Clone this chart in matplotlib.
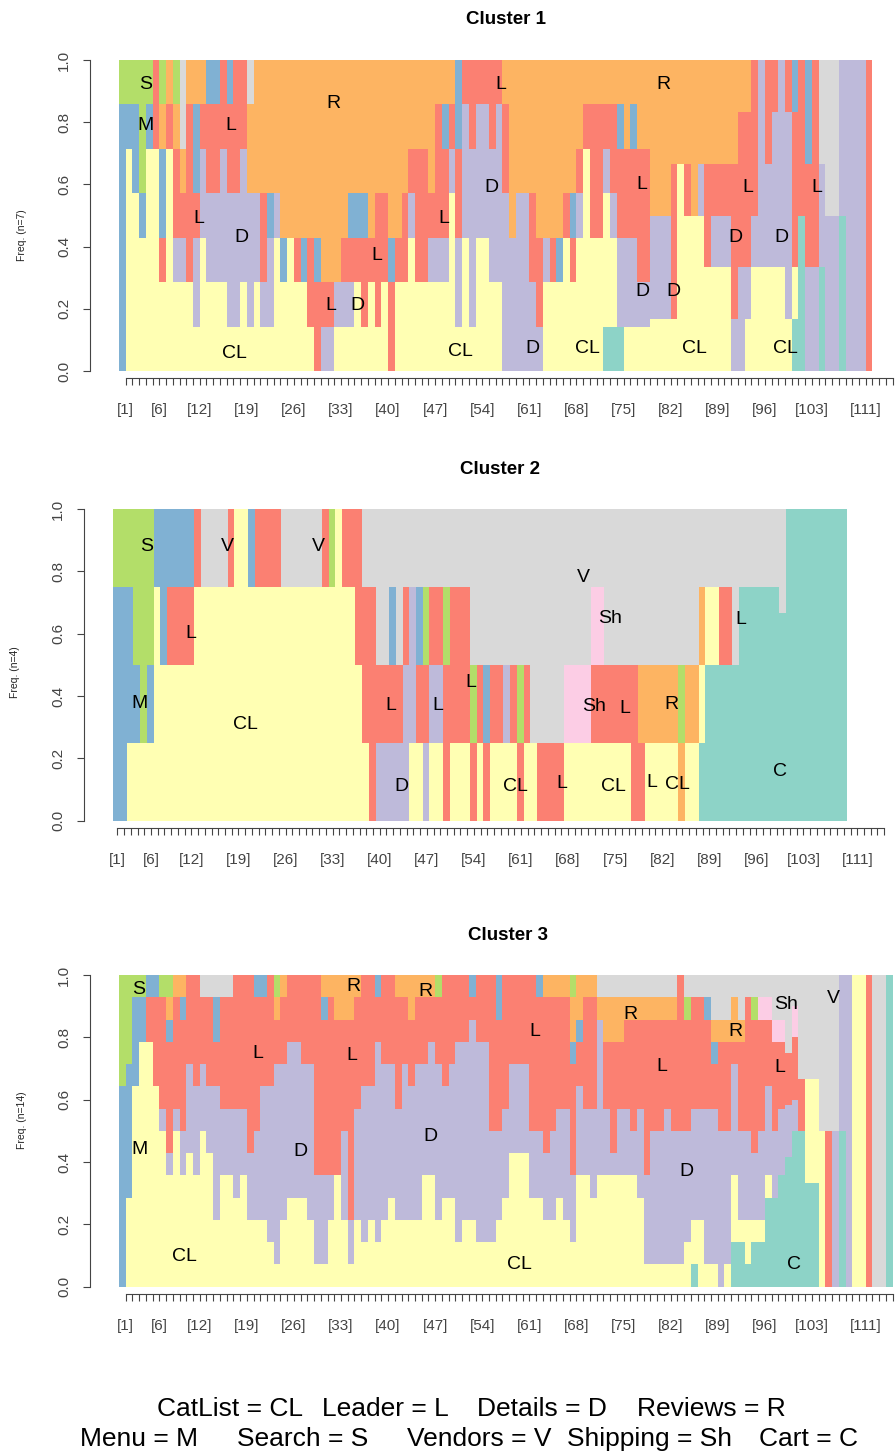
import re
import matplotlib.pyplot as plt
import pandas as pd

plt.rcParams['font.family'] = ['Liberation Sans', 'DejaVu Sans']

# --- states (alphabet order used for stacking) and Set3 colours ---
states = ['C', 'CL', 'D', 'L', 'M', 'R', 'S', 'Sh', 'V']
state_colors = ['#8DD3C7', '#FFFFB3', '#BEBADA', '#FB8072', '#80B1D3',
                '#FDB462', '#B3DE69', '#FCCDE5', '#D9D9D9']

legend_row1 = ['CatList = CL', 'Leader = L', 'Details = D', 'Reviews = R']
legend_row2 = ['Menu = M', 'Search = S', 'Vendors = V', 'Shipping = Sh', 'Cart = C']

n_positions = 115
label_positions = [1, 6, 12, 19, 26, 33, 40, 47, 54, 61, 68, 75, 82, 89, 96, 103, 111]
ytick_values = [0.0, 0.2, 0.4, 0.6, 0.8, 1.0]

# --- state counts at each sequence position ---
cluster1 = [
    "M6 S1", "CL5 M1 S1", "CL4 M2 S1", "CL3 M1 S3", "CL5 M1 S1",              # 1-5
    "CL5 L2", "CL2 L1 M2 R1 S1", "CL5 L1 R1", "CL2 D1 L2 R1 S1", "CL2 D1 L1 R1 V2",  # 6-10
    "CL2 L4 R1", "CL1 D2 L1 M2 R1", "CL3 D2 L1 R1", "CL2 D2 L2 M1", "CL2 D2 L2 M1",  # 11-15
    "CL2 D3 L2", "CL1 D3 L2 M1", "CL1 D3 L3", "CL2 D3 L2", "CL1 D3 R2 V1",    # 16-20
    "CL2 D2 R3", "CL1 D1 L2 R3", "CL1 D2 M1 R3", "CL3 D1 R3", "CL2 M1 R4",    # 21-25
    "CL3 R4", "CL2 L1 R4", "CL2 M1 R4", "CL1 L2 R4", "L2 M1 R4",              # 26-30
    "D1 L1 R5", "D1 L1 R5", "CL1 D1 R5", "CL1 D1 L1 R4", "CL1 D1 L1 M1 R3",   # 31-35
    "CL2 L1 M1 R3", "CL1 L2 M1 R3", "CL2 L1 R4", "CL1 L3 R3", "CL2 L2 R3",    # 36-40
    "L2 M1 R4", "CL2 L1 R4", "CL2 L2 R3", "CL3 D1 L1 R2", "CL2 L3 R2",        # 41-45
    "CL2 L3 R2", "CL2 D1 L1 R3", "CL2 D1 L3 R1", "CL2 D1 L2 M1 R1", "CL4 D1 L1 R1",  # 46-50
    "CL1 D2 L2 M2", "CL3 D3 L1", "CL1 D4 L2", "CL3 D3 L1", "CL3 D3 L1",       # 51-55
    "CL2 D3 L2", "CL2 D4 L1", "D4 L2 R1", "D3 R4", "D4 R3",                   # 56-60
    "D4 R3", "D2 L2 R3", "D1 L2 R4", "CL2 D1 R4", "CL2 L1 R4",                # 61-65
    "CL2 M1 R4", "CL3 L1 R3", "CL2 L1 M1 R3", "CL3 D1 L1 R2", "CL5 L1 R1",    # 66-70
    "CL3 L3 R1", "CL3 L3 R1", "C1 CL3 D1 L1 R1", "C1 CL2 D1 L2 R1", "C1 D2 L2 M1 R1",  # 71-75
    "CL1 D2 L2 R2", "CL1 D2 L2 M1 R1", "CL1 D1 L3 R2", "CL1 D1 L3 R2", "CL1 D2 R3",  # 76-80
    "CL1 D2 R3", "CL1 D2 R3", "CL1 L3 R2", "CL4 R2", "CL3 L1 R2",             # 81-85
    "CL3 R3", "CL3 D1 R2", "CL2 L2 R2", "CL2 D1 L1 R2", "CL2 D1 L1 R2",       # 86-90
    "CL2 D1 L1 R2", "D1 L3 R2", "D2 L3 R1", "CL1 D1 L3 R1", "CL2 D1 L3",      # 91-95
    "CL2 D4", "CL2 D2 L2", "CL2 D3 L1", "CL2 D4", "CL1 D4 L1",                # 96-100
    "C1 CL1 L3 M1", "C3 L3", "D2 L2 M2", "D2 L4", "C2 D2 V2",                 # 101-105
    "D3 V3", "D3 V3", "C3 D3", "D6", "D6",                                    # 106-110
    "D6", "L6",                                                               # 111-112
]

cluster2 = [
    "M3 S1", "M3 S1", "CL1 M2 S1", "CL1 M1 S2", "CL1 S3",                     # 1-5
    "CL1 M1 S2", "CL3 M1", "CL2 M2", "CL2 L1 M1", "CL2 L1 M1",                # 6-10
    "CL2 L1 M1", "CL2 L1 M1", "CL3 L1", "CL3 V1", "CL3 V1",                   # 11-15
    "CL3 V1", "CL3 V1", "CL3 L1", "CL4", "CL4",                               # 16-20
    "CL3 M1", "CL3 L1", "CL3 L1", "CL3 L1", "CL3 L1",                         # 21-25
    "CL3 V1", "CL3 V1", "CL3 V1", "CL3 V1", "CL3 V1",                         # 26-30
    "CL3 V1", "CL3 L1", "CL3 S1", "CL4", "CL3 L1",                            # 31-35
    "CL3 L1", "CL2 L2", "CL1 L2 V1", "L3 V1", "D1 L1 V2",                     # 36-40
    "D1 L1 V2", "D1 L1 M1 V1", "D1 L1 V2", "D2 L1 V1", "CL1 D2 V1",           # 41-45
    "CL1 L1 M1 V1", "D1 L1 S1 V1", "CL1 D1 L1 V1", "CL1 D1 L1 V1", "L2 S1 V1",  # 46-50
    "CL1 L2 V1", "CL1 L2 V1", "CL1 L2 V1", "L1 S1 V2", "CL1 L1 V2",           # 51-55
    "L1 M1 V2", "CL1 L1 V2", "CL1 L1 V2", "CL1 D1 V2", "CL1 L1 V2",           # 56-60
    "L1 S1 V2", "CL1 L1 V2", "CL1 V3", "L1 V3", "L1 V3",                      # 61-65
    "L1 V3", "L1 V3", "CL1 Sh1 V2", "CL1 Sh1 V2", "CL1 Sh1 V2",               # 66-70
    "CL1 Sh1 V2", "CL1 L1 Sh1 V1", "CL1 L1 Sh1 V1", "CL1 L1 V2", "CL1 L1 V2",  # 71-75
    "CL1 L1 V2", "CL1 L1 V2", "L2 V2", "L1 R1 V2", "CL1 R1 V2",               # 76-80
    "CL1 R1 V2", "CL1 R1 V2", "CL1 R1 V2", "CL1 R1 V2", "R1 S1 V2",           # 81-85
    "CL1 R1 V2", "CL1 R1 V2", "C1 CL1 R1 V1", "C2 CL1 V1", "C2 CL1 V1",       # 86-90
    "C2 L1 V1", "C2 L1 V1", "C2 V2", "C3 V1", "C3 V1",                        # 91-95
    "C3 V1", "C3 V1", "C3 V1", "C3 V1", "C2 V1",                              # 96-100
    "C1", "C1", "C1", "C1", "C1", "C1", "C1", "C1", "C1",                     # 101-109
]

cluster3 = [
    "M9 S5", "CL4 M6 S4", "CL9 M4 S1", "CL11 M2 S1", "CL11 L2 M1",            # 1-5
    "CL9 L4 M1", "CL7 D1 L5 S1", "CL5 D1 L5 M1 R1 S1", "CL7 D1 L5 R1", "CL5 D2 L5 M1 R1",  # 6-10
    "CL6 D4 L4", "CL5 D4 L5", "CL7 D3 L3 V1", "CL6 D3 L4 V1", "CL3 D6 L2 M2 V1",  # 11-15
    "CL5 D3 L5 V1", "CL5 D3 L5 V1", "CL4 D4 L6", "CL5 D3 L6", "CL3 D3 L8",    # 16-20
    "CL3 D4 L6 M1", "CL3 D6 L4 M1", "CL2 D7 L5", "CL1 D9 L2 R1 S1", "CL3 D7 L3 R1",  # 21-25
    "CL4 D7 L3", "CL4 D7 L3", "CL4 D6 L4", "CL3 D7 L4", "CL1 D4 L9",          # 26-30
    "CL1 D4 L7 M1 R1", "CL3 D2 L8 R1", "CL5 L7 R2", "CL3 D4 L5 R2", "CL1 D2 L9 R2",  # 31-35
    "CL3 D5 L5 R1", "CL2 D7 L5", "CL3 D6 L5", "CL2 D9 L2 M1", "CL3 D7 L4",    # 36-40
    "CL4 D6 L4", "CL3 D5 L5 R1", "CL3 D7 L3 R1", "CL3 D6 L3 R2", "CL3 D7 L3 R1",  # 41-45
    "CL5 D5 L3 R1", "CL5 D6 L2 R1", "CL3 D7 L3 S1", "CL4 D5 L5", "CL4 D6 L4",  # 46-50
    "CL2 D9 L3", "CL3 D8 L3", "CL3 D9 L1 M1", "CL2 D9 L3", "CL2 D9 L3",       # 51-55
    "CL2 D5 L7", "CL3 D4 L5 M2", "CL4 D4 L6", "CL6 D4 L4", "CL6 D4 L4",       # 56-60
    "CL6 D4 L4", "CL4 D3 L7", "CL4 D3 L6 M1", "CL3 D3 L7 R1", "CL3 D4 L6 R1",  # 61-65
    "CL4 D4 L5 R1", "CL3 D5 L5 R1", "CL2 D3 L5 M1 R2 S1", "CL5 D4 L2 M1 R2", "CL5 D3 L5 R1",  # 66-70
    "CL4 D4 L5 R1", "CL5 D7 R1 V1", "CL5 D3 L3 R2 V1", "CL5 D1 L5 R2 V1", "CL5 D3 L3 R2 V1",  # 71-75
    "CL5 D3 L4 R1 V1", "CL5 D2 L5 R1 V1", "CL4 D4 L4 R1 V1", "CL1 D4 L7 R1 V1", "CL1 D6 L5 R1 V1",  # 76-80
    "CL1 D6 L5 R1 V1", "CL1 D7 L4 R1 V1", "CL1 D6 L5 R1 V1", "CL1 D6 L7", "CL2 D5 L5 S1 V1",  # 81-85
    "C1 CL2 D5 L5 V1", "CL3 D5 L5 V1", "CL1 D7 L4 M1 V1", "CL1 D7 L2 M1 R1 V2", "D7 L4 R1 V2",  # 86-90
    "CL1 D6 L4 R1 V2", "C2 CL3 D5 L1 R2 V1", "C2 CL1 D4 L4 R1 V2", "C1 CL2 D4 L6 V1", "C2 CL1 D3 L6 S1 V1",  # 91-95
    "C2 CL1 D4 L5 Sh1 V1", "C4 CL1 D4 L3 Sh1 V1", "C4 D3 L4 Sh1 V2", "C5 D3 L3 Sh1 V2", "C5 D2 L2 V3",  # 96-100
    "C5 D1 L2 Sh1 V1", "C3 L1 V2", "C1 CL1 V1", "C1 CL1 V1", "CL1 V1",        # 101-105
    "L1 V1", "D1 V1", "C1 D1", "D1", "CL1",                                   # 106-110
    "CL1", "L1", "V1", "V1", "C1",                                            # 111-115
]

# in-chart state labels: (text, position, frequency)
cluster1_labels = [
    ('S', 4.0, 0.92), ('M', 3.9, 0.79), ('L', 16.6, 0.79), ('R', 31.9, 0.86),
    ('L', 56.8, 0.92), ('R', 80.9, 0.92), ('L', 11.8, 0.49), ('D', 18.2, 0.43),
    ('L', 48.3, 0.49), ('D', 55.3, 0.59), ('L', 77.7, 0.60), ('L', 93.5, 0.59),
    ('L', 103.8, 0.59), ('L', 38.3, 0.37), ('D', 91.6, 0.43), ('D', 98.5, 0.43),
    ('L', 31.5, 0.21), ('D', 35.4, 0.21), ('D', 77.8, 0.255), ('D', 82.4, 0.255),
    ('CL', 17.1, 0.057), ('CL', 50.7, 0.064), ('D', 61.5, 0.073), ('CL', 69.6, 0.073),
    ('CL', 85.5, 0.073), ('CL', 99.0, 0.073),
]
cluster2_labels = [
    ('S', 4.9, 0.88), ('V', 16.9, 0.88), ('V', 30.5, 0.88), ('L', 11.5, 0.60),
    ('M', 3.9, 0.377), ('CL', 19.7, 0.31), ('V', 69.9, 0.78), ('Sh', 73.8, 0.65),
    ('Sh', 71.4, 0.366), ('L', 76.0, 0.36), ('R', 83.0, 0.374), ('L', 41.3, 0.37),
    ('L', 48.2, 0.37), ('L', 53.2, 0.443), ('D', 42.9, 0.109), ('CL', 59.8, 0.111),
    ('L', 66.6, 0.118), ('CL', 74.3, 0.111), ('L', 80.1, 0.122), ('CL', 83.9, 0.117),
    ('L', 93.3, 0.644), ('C', 99.1, 0.157),
]
cluster3_labels = [
    ('S', 2.9, 0.952), ('M', 3.1, 0.439), ('L', 20.7, 0.749), ('D', 27.0, 0.433),
    ('CL', 9.8, 0.096), ('R', 34.8, 0.962), ('R', 45.6, 0.946), ('L', 34.6, 0.743),
    ('D', 46.3, 0.481), ('L', 61.8, 0.818), ('R', 76.0, 0.872), ('L', 80.7, 0.706),
    ('CL', 59.6, 0.070), ('D', 84.4, 0.369), ('R', 91.7, 0.818), ('Sh', 99.2, 0.906),
    ('V', 106.2, 0.925), ('L', 98.2, 0.703), ('C', 100.3, 0.070),
]


def to_freq(cols):
    rows = []
    for spec in cols:
        counts = dict.fromkeys(states, 0)
        for st, k in re.findall(r'([A-Za-z]+)(\d+)', spec):
            counts[st] = int(k)
        rows.append(counts)
    df = pd.DataFrame(rows, columns=states)
    return df.div(df.sum(axis=1), axis=0)


# --- figure geometry (pixels) ---
W, H = 896.0, 1453.0
COL_W = 6.727
PT = 0.72  # points per pixel at 100 dpi
AXIS_C = '#444444'

fig = plt.figure(figsize=(W / 100, H / 100), dpi=100)

panels = [
    (cluster1, cluster1_labels, 'Cluster 1', 'Freq. (n=7)', 119.0, 60.0, 371.0, 0.0, 506, 20, 22, 235),
    (cluster2, cluster2_labels, 'Cluster 2', 'Freq. (n=4)', 113.3, 509.0, 820.7, 0.4, 500, 469, 15, 672),
    (cluster3, cluster3_labels, 'Cluster 3', 'Freq. (n=14)', 119.0, 975.0, 1286.7, 0.0, 508, 935, 22, 1120),
]

for cols, labels, title, ylab, x0, top, bot, shift, tx, ty, lx, ly in panels:
    ax = fig.add_axes([x0 / W, 1 - bot / H, n_positions * COL_W / W, (bot - top) / H])
    freq = to_freq(cols)
    base = pd.Series(0.0, index=freq.index)
    for st, colr in zip(states, state_colors):
        h = freq[st]
        keep = h > 0
        ax.bar(freq.index[keep], h[keep], bottom=base[keep], width=1.0, align='edge',
               color=colr, linewidth=0, antialiased=False)
        base = base + h

    for s, xp, yp in labels:
        ax.text(xp, yp, s, ha='center', va='center', fontsize=14, color='black')

    ax.set_xlim(0, n_positions)
    ax.set_ylim(0, 1)
    ticks = [p - shift for p in range(1, n_positions + 1)]
    ax.set_xticks(ticks)
    ax.set_xticklabels(['[%d]' % p if p in label_positions else '' for p in range(1, n_positions + 1)])
    ax.set_yticks(ytick_values)
    ax.set_yticklabels(['%.1f' % v for v in ytick_values])

    for side in ['top', 'right']:
        ax.spines[side].set_visible(False)
    ax.spines['left'].set_position(('outward', 29 * PT))
    ax.spines['bottom'].set_position(('outward', 7 * PT))
    ax.spines['bottom'].set_bounds(ticks[0], ticks[-1])
    for side in ['left', 'bottom']:
        ax.spines[side].set_color(AXIS_C)
        ax.spines[side].set_linewidth(0.8)
    ax.tick_params(axis='both', direction='out', length=7 * PT, width=0.8,
                   color=AXIS_C, labelcolor=AXIS_C, labelsize=11)
    ax.tick_params(axis='x', pad=18 * PT)
    ax.tick_params(axis='y', pad=12 * PT, labelrotation=90)
    for lab in ax.get_yticklabels():
        lab.set_verticalalignment('center')

    fig.text(tx / W, 1 - ty / H, title, ha='center', va='center', fontsize=13.5, fontweight='bold')
    fig.text(lx / W, 1 - ly / H, ylab, ha='center', va='center', rotation=90, fontsize=7.5, color='#222222')

# --- state legend at the bottom ---
row1_x = [157, 322, 477, 637]
row2_x = [80, 237, 407, 567, 759]
for s, xp in zip(legend_row1, row1_x):
    fig.text(xp / W, 1 - 1416 / H, s, ha='left', va='baseline', fontsize=19)
for s, xp in zip(legend_row2, row2_x):
    fig.text(xp / W, 1 - 1446 / H, s, ha='left', va='baseline', fontsize=19)

fig.savefig('out.png', dpi=100)
